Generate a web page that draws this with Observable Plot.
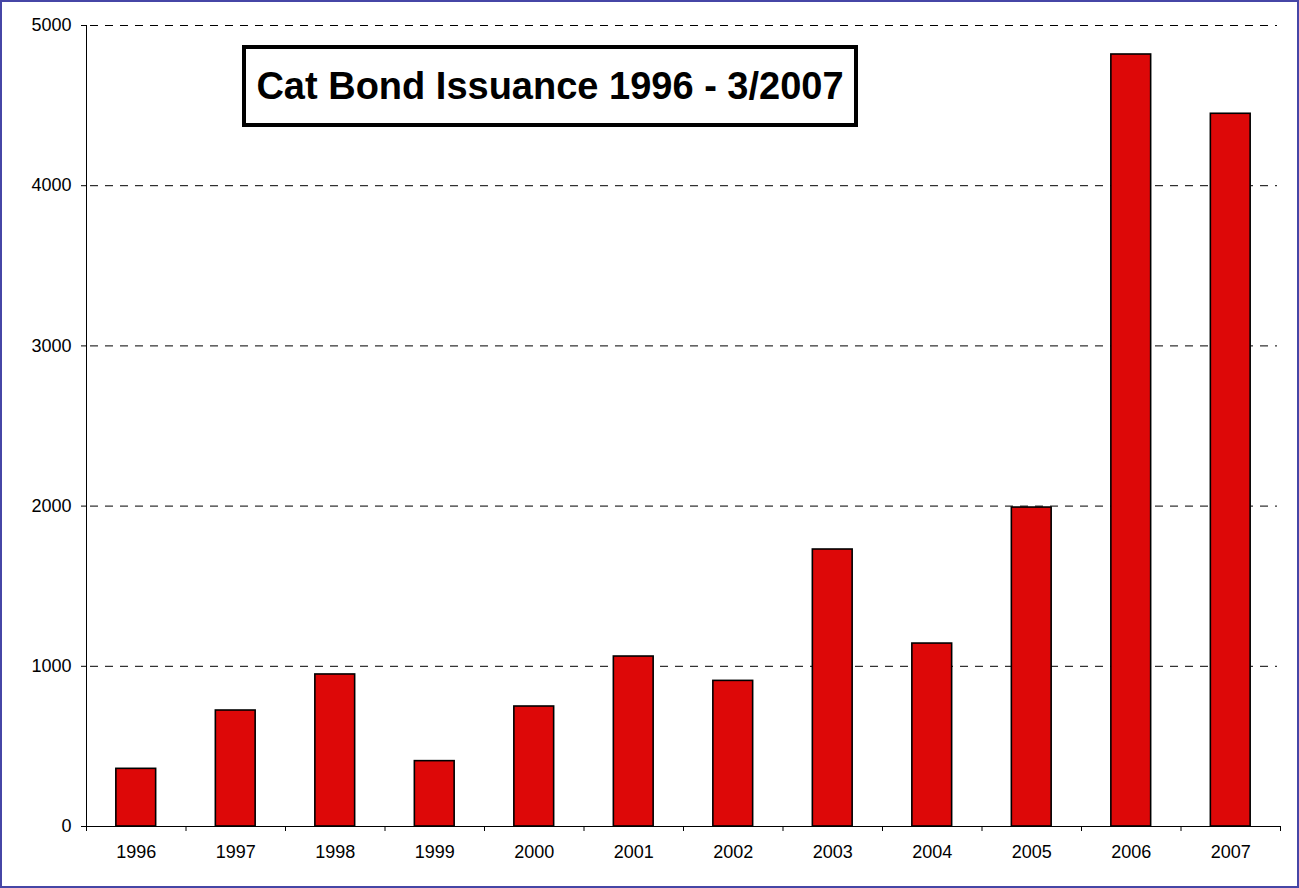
<!DOCTYPE html>
<html>
<head>
<meta charset="utf-8">
<script src="https://cdn.jsdelivr.net/npm/d3@7"></script>
<script src="https://cdn.jsdelivr.net/npm/@observablehq/plot@0.6"></script>
<style>
  html, body { margin: 0; padding: 0; background: #fff; }
  #wrap { position: relative; width: 1299px; height: 888px; overflow: hidden; }
  #border { position: absolute; left: 0; top: 0; width: 1299px; height: 888px; box-sizing: border-box; border: 2px solid #4646a6; pointer-events: none; }
  #title { position: absolute; left: 242px; top: 45px; width: 616px; height: 82px; box-sizing: border-box;
           border: 4px solid #000; background: #fff; display: flex; align-items: center; justify-content: center;
           font-family: "Liberation Sans", Arial, sans-serif; font-weight: bold; font-size: 38px; color: #000; white-space: nowrap; }
</style>
</head>
<body>
<div id="wrap">
  <div id="chart"></div>
  <div id="title">Cat Bond Issuance 1996 - 3/2007</div>
  <div id="border"></div>
</div>
<script>
const years = [1996, 1997, 1998, 1999, 2000, 2001, 2002, 2003, 2004, 2005, 2006, 2007];
const issuance = [360, 724, 949, 408, 749, 1061, 909, 1729, 1142, 1991, 4819, 4449];
const yTicks = [0, 1000, 2000, 3000, 4000, 5000];

const data = years.map((y, i) => ({year: y, value: issuance[i]}));
const halfBar = 0.2;
const boundaries = [years[0] - 0.5, ...years.map(y => y + 0.5)];

const chart = Plot.plot({
  width: 1299,
  height: 888,
  marginLeft: 86,
  marginRight: 19,
  marginTop: 25,
  marginBottom: 62,
  style: {fontFamily: "'Liberation Sans', Arial, sans-serif", fontSize: "18px", color: "#000", background: "transparent"},
  x: {domain: [years[0] - 0.5, years[years.length - 1] + 0.5], axis: null},
  y: {domain: [0, 5000], axis: null},
  marks: [
    Plot.gridY(yTicks.filter(d => d > 0), {stroke: "#000", strokeOpacity: 1, strokeWidth: 1, strokeDasharray: "8,7", strokeDashoffset: -4, insetRight: 3}),
    Plot.rectY(data, {x1: d => d.year - halfBar, x2: d => d.year + halfBar, y: "value", fill: "#dd0808", stroke: "#000", strokeWidth: 1.6}),
    Plot.ruleY([0], {stroke: "#000", strokeWidth: 1}),
    Plot.ruleX([years[0] - 0.5], {stroke: "#000", strokeWidth: 1}),
    Plot.axisY(yTicks, {tickSize: 5, tickPadding: 10, tickFormat: d => String(d), stroke: "#000", strokeOpacity: 1, label: null}),
    Plot.axisX(boundaries, {tickSize: 5, tickFormat: () => "", stroke: "#000", strokeOpacity: 1, label: null}),
    Plot.axisX(years, {tickSize: 0, tickPadding: 19, tickFormat: d => String(d), label: null})
  ]
});
document.getElementById("chart").appendChild(chart);
</script>
</body>
</html>
